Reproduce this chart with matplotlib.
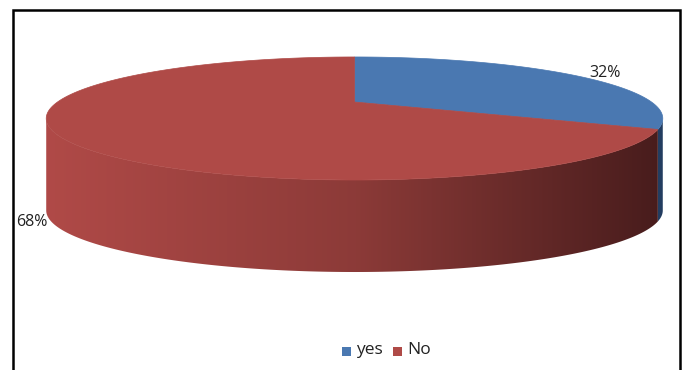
import numpy as np
import matplotlib
matplotlib.use("Agg")
import matplotlib.pyplot as plt
from matplotlib.patches import Polygon, Rectangle

categories = ["yes", "No"]
values = [32, 68]
labels = ["32%", "68%"]

top_colors = ["#4A78B1", "#AF4A47"]
side_left = [(0.22, 0.36, 0.55), (0.69, 0.29, 0.28)]
side_mid = [(0.18, 0.30, 0.47), (0.55, 0.23, 0.22)]
side_right = [(0.14, 0.24, 0.38), (0.28, 0.11, 0.11)]

W, H = 683, 370
fig = plt.figure(figsize=(W / 100, H / 100), dpi=100)
ax = fig.add_axes([0, 0, 1, 1])
ax.set_xlim(0, W)
ax.set_ylim(H, 0)
ax.axis("off")

# geometry (pixel layout)
cx, cy = 354.5, 102.0
su, sv, k = 297.0, 57.1, 0.268
depth = 92.0


def proj(theta_deg):
    t = np.radians(theta_deg)
    xd, yd = np.sin(t), np.cos(t)
    w = 1 + k * yd
    return cx + su * xd / w, cy - sv * yd / w


def arc(a0, a1, n=200):
    th = np.linspace(a0, a1, n)
    X, Y = proj(th)
    return np.column_stack([X, Y])


# visible front range of the side (rightmost to leftmost silhouette)
phi = np.degrees(np.arcsin(k))
vis0, vis1 = 90 + phi, 270 - phi

total = float(sum(values))
bounds = np.concatenate([[0], np.cumsum(values) / total * 360.0])

xs = np.linspace(0, W, 400)


def gradient_img(i):
    xl, xr = proj(270 - phi)[0], proj(90 + phi)[0]
    xm = (xl + xr) / 2
    cols = np.zeros((1, len(xs), 3))
    for c in range(3):
        cols[0, :, c] = np.interp(xs, [xl, xm, xr],
                                  [side_left[i][c], side_mid[i][c], side_right[i][c]])
    return cols


# sides
for i in range(len(values)):
    a0, a1 = bounds[i], bounds[i + 1]
    s0, s1 = max(a0, vis0), min(a1, vis1)
    if s1 <= s0:
        continue
    up = arc(s0, s1)
    lo = up[::-1].copy()
    lo[:, 1] += depth
    poly = np.vstack([up, lo])
    patch = Polygon(poly, closed=True, facecolor="none", edgecolor="none")
    ax.add_patch(patch)
    im = ax.imshow(gradient_img(i), extent=(0, W, H, 0), aspect="auto",
                   interpolation="bilinear", zorder=1)
    im.set_clip_path(patch)

# top faces
for i in range(len(values)):
    a0, a1 = bounds[i], bounds[i + 1]
    pts = np.vstack([[cx, cy], arc(a0, a1, 300)])
    ax.add_patch(Polygon(pts, closed=True, facecolor=top_colors[i],
                         edgecolor=top_colors[i], linewidth=0.5, zorder=2))

# data labels
font = "Open Sans"
ax.text(605, 73, labels[0], fontsize=11.5, ha="center", va="center",
        color="#222222", family=font)
ax.text(32, 222, labels[1], fontsize=11.5, ha="center", va="center",
        color="#222222", family=font)

# legend
leg_x = [342, 393]
for i, name in enumerate(categories):
    ax.add_patch(Rectangle((leg_x[i], 346.5), 9, 9, facecolor=top_colors[i],
                           edgecolor="none", zorder=3))
    ax.text(leg_x[i] + 14, 350, name, fontsize=12.5, ha="left", va="center",
            color="#222222", family=font)

# chart frame
ax.plot([13, 13, 680, 680], [H + 5, 10, 10, H + 5], color="black",
        linewidth=1.8, solid_joinstyle="miter", zorder=4)

fig.savefig("out.png", dpi=100)
